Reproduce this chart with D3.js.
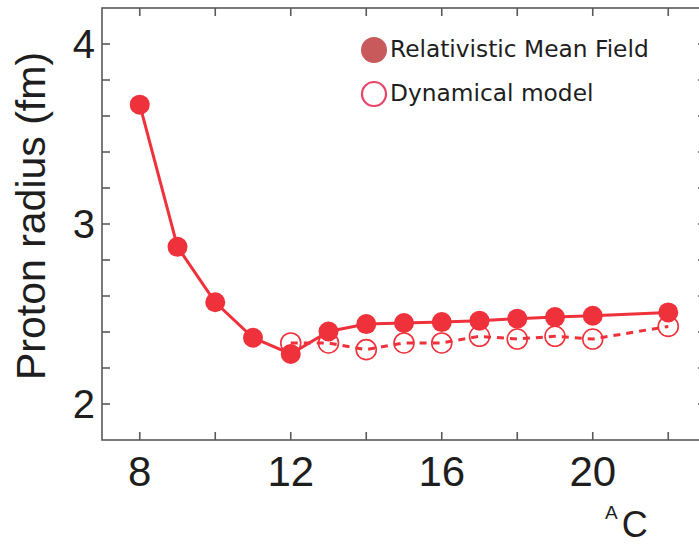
<!DOCTYPE html>
<html>
<head>
<meta charset="utf-8">
<script src="https://cdn.jsdelivr.net/npm/d3@7"></script>
<style>
  html, body { margin: 0; padding: 0; background: #fff; }
  svg { display: block; font-family: "Liberation Sans", Arial, Helvetica, sans-serif; }
</style>
</head>
<body>
<svg id="chart" width="699" height="544"></svg>
<script>
// Proton radii of carbon isotopes
const massRMF = [8, 9, 10, 11, 12, 13, 14, 15, 16, 17, 18, 19, 20, 22];
const radiusRMF = [3.663, 2.873, 2.565, 2.368, 2.278, 2.403, 2.444, 2.450, 2.455, 2.463, 2.474, 2.483, 2.490, 2.509];

const massDyn = [12, 13, 14, 15, 16, 17, 18, 19, 20, 22];
const radiusDyn = [2.339, 2.339, 2.302, 2.339, 2.339, 2.376, 2.361, 2.376, 2.361, 2.431];

const xMajorTicks = [8, 12, 16, 20];
const xMinorTicks = [10, 14, 18, 22];
const yMajorTicks = [2, 3, 4];
const yAllTicks = [2.0, 2.2, 2.4, 2.6, 2.8, 3.0, 3.2, 3.4, 3.6, 3.8, 4.0];

const legendLabels = ["Relativistic Mean Field", "Dynamical model"];

const red = "#ee313b";
const axisColor = "#5a5a5a";
const textColor = "#1e1e1e";

const svg = d3.select("#chart");

const frame = { left: 102, right: 706, top: 8, bottom: 440 };

const x = d3.scaleLinear().domain([7, 23]).range([frame.left, frame.right]);
const y = d3.scaleLinear().domain([1.8, 4.2]).range([frame.bottom, frame.top]);

// Frame
svg.append("rect")
  .attr("x", frame.left).attr("y", frame.top)
  .attr("width", frame.right - frame.left)
  .attr("height", frame.bottom - frame.top)
  .attr("fill", "none")
  .attr("stroke", axisColor)
  .attr("stroke-width", 1.6);

const tickLen = 8;
const xTicksAll = xMajorTicks.concat(xMinorTicks);

// Inward ticks, bottom and top
const axisG = svg.append("g").attr("stroke", axisColor).attr("stroke-width", 1.6);
xTicksAll.forEach(v => {
  axisG.append("line").attr("x1", x(v)).attr("x2", x(v))
    .attr("y1", frame.bottom).attr("y2", frame.bottom - tickLen);
  axisG.append("line").attr("x1", x(v)).attr("x2", x(v))
    .attr("y1", frame.top).attr("y2", frame.top + tickLen);
});
// Inward ticks, left and right
yAllTicks.forEach(v => {
  axisG.append("line").attr("x1", frame.left).attr("x2", frame.left + tickLen)
    .attr("y1", y(v)).attr("y2", y(v));
  axisG.append("line").attr("x1", frame.right).attr("x2", frame.right - tickLen)
    .attr("y1", y(v)).attr("y2", y(v));
});

// Tick labels
svg.append("g").selectAll("text")
  .data(xMajorTicks).join("text")
  .attr("x", d => x(d))
  .attr("y", 486)
  .attr("text-anchor", "middle")
  .attr("font-size", 42)
  .attr("fill", textColor)
  .text(d => d);

svg.append("g").selectAll("text")
  .data(yMajorTicks).join("text")
  .attr("x", 95)
  .attr("y", d => y(d) + 14)
  .attr("text-anchor", "end")
  .attr("font-size", 40)
  .attr("fill", textColor)
  .text(d => d);

// Axis titles
svg.append("text")
  .attr("transform", "translate(45,216) rotate(-90)")
  .attr("text-anchor", "middle")
  .attr("font-size", 41)
  .attr("fill", textColor)
  .text("Proton radius (fm)");

const xTitle = svg.append("text")
  .attr("x", 605)
  .attr("y", 537)
  .attr("fill", textColor);
xTitle.append("tspan").attr("font-size", 19).attr("dy", -18).text("A");
xTitle.append("tspan").attr("font-size", 36).attr("dx", 4).attr("dy", 18).text("C");

// Dynamical model: dashed line with open circles
const dynData = massDyn.map((m, i) => ({ m, r: radiusDyn[i] }));
const rmfData = massRMF.map((m, i) => ({ m, r: radiusRMF[i] }));

const line = d3.line().x(d => x(d.m)).y(d => y(d.r));

svg.append("path")
  .datum(dynData)
  .attr("d", line)
  .attr("fill", "none")
  .attr("stroke", red)
  .attr("stroke-width", 3)
  .attr("stroke-dasharray", "7,6");

svg.append("g").selectAll("circle")
  .data(dynData).join("circle")
  .attr("cx", d => x(d.m))
  .attr("cy", d => y(d.r))
  .attr("r", 10)
  .attr("fill", "none")
  .attr("stroke", red)
  .attr("stroke-width", 1.6);

// Relativistic mean field: solid line with filled circles
svg.append("path")
  .datum(rmfData)
  .attr("d", line)
  .attr("fill", "none")
  .attr("stroke", red)
  .attr("stroke-width", 3);

svg.append("g").selectAll("circle")
  .data(rmfData).join("circle")
  .attr("cx", d => x(d.m))
  .attr("cy", d => y(d.r))
  .attr("r", 10)
  .attr("fill", red);

// Legend
const legend = svg.append("g");
legend.append("circle")
  .attr("cx", 374).attr("cy", 50).attr("r", 13)
  .attr("fill", "#c85a5c");
legend.append("circle")
  .attr("cx", 374).attr("cy", 94).attr("r", 12)
  .attr("fill", "none")
  .attr("stroke", "#e8446a")
  .attr("stroke-width", 2.2);
legend.selectAll("text")
  .data(legendLabels).join("text")
  .attr("x", 390)
  .attr("y", (d, i) => 57 + i * 44)
  .attr("font-family", "'DejaVu Sans', sans-serif")
  .attr("font-size", 23.3)
  .attr("fill", textColor)
  .text(d => d);
</script>
</body>
</html>
